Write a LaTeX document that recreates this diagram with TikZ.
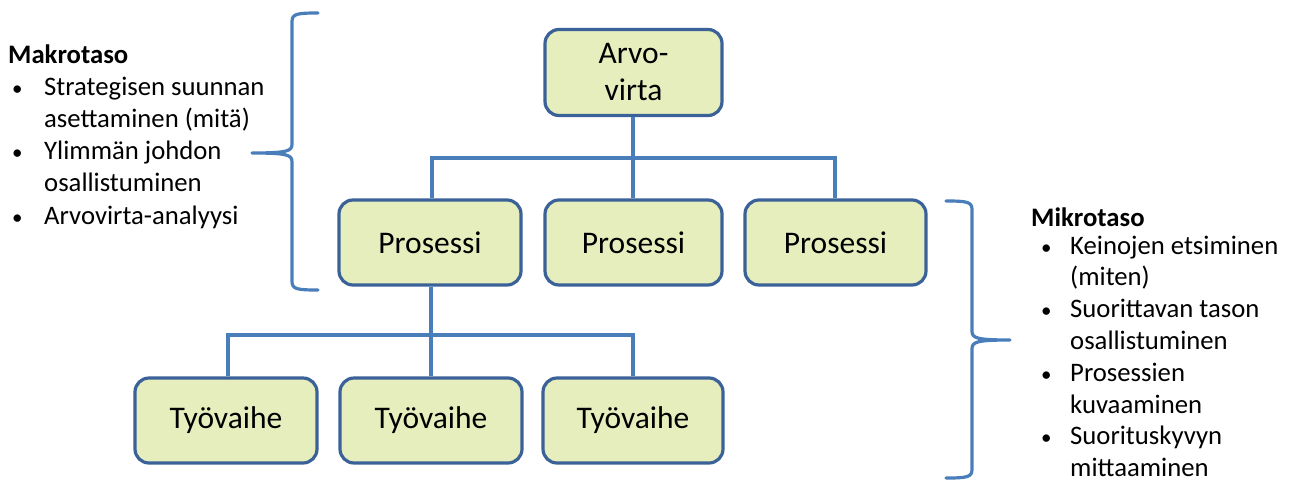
\documentclass[tikz,border=0pt]{standalone}
\usepackage{fontspec}
\setmainfont{Carlito}
\definecolor{boxfill}{HTML}{E6EEBD}
\definecolor{boxline}{HTML}{3A6298}
\definecolor{linkblue}{HTML}{4A7EBB}
% list lines: bullet offset and text offset from the list's left edge
\newdimen\bulletpos
\newdimen\textpos
\newcommand{\itemline}[1]{\hbox{\hskip\bulletpos\hbox to \dimexpr\textpos-\bulletpos\relax{{\fontsize{21}{21}\selectfont •}\hss}#1}}
\newcommand{\contline}[1]{\hbox{\hskip\textpos #1}}
\begin{document}
\begin{tikzpicture}[x=1pt,y=-1pt,
  stage/.style={draw=boxline, line width=3.2pt, fill=boxfill, rounded corners=14pt,
    minimum height=85pt, inner sep=0pt, align=center,
    font=\fontsize{31.5}{37}\selectfont},
  link/.style={draw=linkblue, line width=3.2pt},
  bracket/.style={draw=linkblue, line width=3.2pt, line cap=round, line join=round},
  listtext/.style={anchor=base west, inner sep=0pt,
    font=\fontsize{26.7}{32.5}\selectfont}]
\useasboundingbox (0,0) rectangle (1289,485);

% hierarchy boxes
\node[stage, minimum width=177pt, minimum height=86pt] (vs) at (633.5,72.5) {Arvo-\\virta};
\node[stage, minimum width=182pt] (p1) at (430,242.5) {Prosessi};
\node[stage, minimum width=177pt] (p2) at (633.5,242.5) {Prosessi};
\node[stage, minimum width=181pt] (p3) at (835.5,242.5) {Prosessi};
\node[stage, minimum width=182pt] (t1) at (226,420.5) {Työvaihe};
\node[stage, minimum width=182pt] (t2) at (431,420.5) {Työvaihe};
\node[stage, minimum width=180pt] (t3) at (633,420.5) {Työvaihe};

% tree connectors
\coordinate (j1) at (633,158);
\coordinate (j2) at (431,335);
\draw[link] (vs.south -| j1) -- (j1);
\draw[link] (p1.north -| 432,0) |- (j1) -| (p3.north -| 835,0);
\draw[link] (j1) -- (p2.north -| j1);
\draw[link] (p1.south -| j2) -- (j2);
\draw[link] (t1.north -| 228,0) |- (j2) -| (t3.north -| 633,0);
\draw[link] (j2) -- (t2.north -| j2);

% braces
\coordinate (lb) at (252,153);
\draw[bracket] (318,13) .. controls (296,13) and (292,14) .. (292,22)
  -- (292,144) .. controls (292,151) and (288,153) .. (lb)
  .. controls (288,153) and (292,155) .. (292,162)
  -- (292,281) .. controls (292,289) and (296,290) .. (318,290);
\coordinate (rb) at (1010,340);
\draw[bracket] (946,201) .. controls (968,201) and (972,202) .. (972,210)
  -- (972,331) .. controls (972,338) and (976,340) .. (rb)
  .. controls (976,340) and (972,342) .. (972,349)
  -- (972,469) .. controls (972,477) and (968,478) .. (946,478);

% level descriptions
\node[listtext] (makro) at (8,63) {\bulletpos=4pt \textpos=36pt
  \vtop{\baselineskip=32.2pt
  \hbox{\bfseries Makrotaso}
  \itemline{Strategisen suunnan}
  \contline{asettaminen (mitä)}
  \itemline{Ylimmän johdon}
  \contline{osallistuminen}
  \itemline{Arvovirta-analyysi}}};
\node[listtext] (mikro) at (1031,226) {\bulletpos=10pt \textpos=39pt
  \vtop{\baselineskip=31.8pt
  \hbox{\bfseries Mikrotaso}
  \vskip-3.8pt
  \itemline{Keinojen etsiminen}
  \contline{(miten)}
  \itemline{Suorittavan tason}
  \contline{osallistuminen}
  \itemline{Prosessien}
  \contline{kuvaaminen}
  \itemline{Suorituskyvyn}
  \contline{mittaaminen}}};
\end{tikzpicture}
\end{document}
